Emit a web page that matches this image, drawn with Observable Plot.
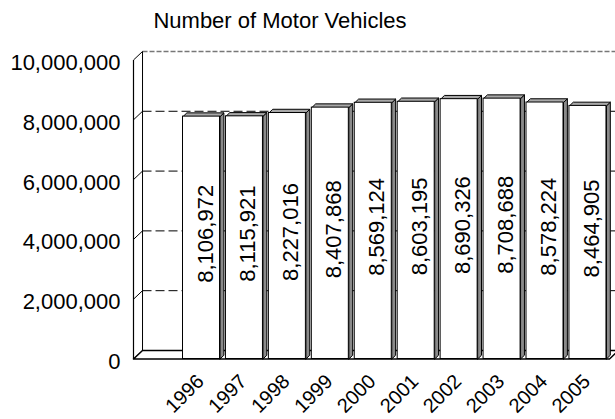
<!DOCTYPE html>
<html><head><meta charset="utf-8">
<script src="https://cdn.jsdelivr.net/npm/d3@7"></script>
<script src="https://cdn.jsdelivr.net/npm/@observablehq/plot@0.6"></script>
<style>
body{margin:0;background:#fff;font-family:"Liberation Sans",Arial,sans-serif;}
#title{height:38px;width:560px;text-align:center;font-size:22px;line-height:42px;color:#000;overflow:hidden;}
#chart{width:615px;height:381px;overflow:hidden;}
</style></head><body>
<div id="title">Number of Motor Vehicles</div>
<div id="chart"></div>
<script>
const years = ["1996","1997","1998","1999","2000","2001","2002","2003","2004","2005"];
const vehicles = [8106972, 8115921, 8227016, 8407868, 8569124, 8603195, 8690326, 8708688, 8578224, 8464905];
const yTicks = [0, 2000000, 4000000, 6000000, 8000000, 10000000];

// scale configuration (data units)
const LO = -1.584, HI = 9.502;      // x extent of floor (category index units)
const DX = 0.21, DY = 285000;       // wall depth offset
const BX = 0.09, BY = 125000;       // bar depth offset
const HALF = 0.431;                 // half bar width
const fmt = d3.format(",");

const data = years.map((year, i) => ({i, year, value: vehicles[i]}));

const sides = data.flatMap(d => {
  const xr = d.i + HALF;
  return [[xr,0],[xr,d.value],[xr+BX,d.value+BY],[xr+BX,BY],[xr,0]].map(([x,y]) => ({id:d.i,x,y}));
});
const tops = data.flatMap(d => {
  const xl = d.i - HALF, xr = d.i + HALF, v = d.value;
  return [[xl,v],[xr,v],[xr+BX,v+BY],[xl+BX,v+BY],[xl,v]].map(([x,y]) => ({id:d.i,x,y}));
});
const floor = [[LO,0],[HI,0],[HI+DX,DY],[LO+DX,DY],[LO,0]].map(([x,y]) => ({x,y}));
const gridT = yTicks.filter(t => t > 0 && t < 10000000);

const chart = Plot.plot({
  width: 615,
  height: 381,
  marginLeft: 133,
  marginRight: 6,
  marginTop: 21.5,
  marginBottom: 60.5,
  style: {fontFamily: "'Liberation Sans', Arial, sans-serif", background: "#fff", color: "#000"},
  x: {type: "linear", domain: [LO, HI], axis: null},
  y: {type: "linear", domain: [0, 10000000], axis: null},
  marks: [
    // back wall grid lines
    Plot.link(gridT, {x1: LO + DX, x2: HI + DX, y1: t => t + DY, y2: t => t + DY, stroke: "#000", strokeWidth: 1, strokeDasharray: "9,4"}),
    Plot.link([10000000], {x1: LO + DX, x2: HI + DX, y1: t => t + DY, y2: t => t + DY, stroke: "#777", strokeWidth: 1.3, strokeDasharray: "5,2"}),
    // back wall left edge
    Plot.link([0], {x1: LO + DX, x2: LO + DX, y1: DY, y2: 10000000 + DY, stroke: "#000", strokeWidth: 1}),
    // left wall front edge
    Plot.link([0], {x1: LO, x2: LO, y1: 0, y2: 10000000, stroke: "#000", strokeWidth: 1.2}),
    // left wall diagonals
    Plot.link(yTicks, {x1: LO, x2: LO + DX, y1: t => t, y2: t => t + DY, stroke: "#000", strokeWidth: 1}),
    // floor
    Plot.line(floor, {x: "x", y: "y", fill: "#fff", stroke: "#000", strokeWidth: 1.5}),
    // bars
    Plot.line(sides, {x: "x", y: "y", z: "id", fill: "#8a8a8a", stroke: "#000", strokeWidth: 1}),
    Plot.line(tops, {x: "x", y: "y", z: "id", fill: "#a8a8a8", stroke: "#000", strokeWidth: 1}),
    Plot.rect(data, {x1: d => d.i - HALF, x2: d => d.i + HALF, y1: 0, y2: "value", fill: "#fff", stroke: "#000", strokeWidth: 1}),
    // value labels
    Plot.text(data, {x: "i", y: d => d.value / 2, text: d => fmt(d.value), rotate: -90, fontSize: 22, dx: 4, dy: -4, fill: "#000"}),
    // y axis
    Plot.axisY(yTicks, {anchor: "left", tickSize: 0, tickPadding: 13, tickFormat: fmt, fontSize: 22, dy: 3}),
    // x labels
    Plot.text(data, {x: "i", y: 0, text: "year", rotate: -45, textAnchor: "end", lineAnchor: "middle", fontSize: 20, dx: -1, dy: 19, fill: "#000"})
  ]
});
document.getElementById("chart").appendChild(chart);
</script>
</body></html>
